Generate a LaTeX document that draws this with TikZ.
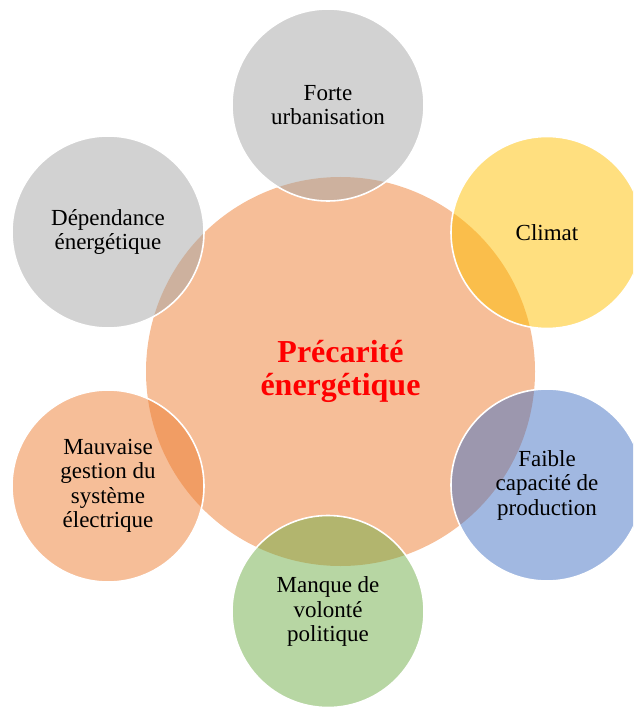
\documentclass[tikz,border=0pt]{standalone}
\usepackage{fontspec}
\setmainfont{Liberation Serif}
\definecolor{OfficeGray}  {RGB}{165, 165, 165}
\definecolor{OfficeGold}  {RGB}{255, 192,   0}
\definecolor{OfficeBlue}  {RGB}{ 68, 114, 196}
\definecolor{OfficeGreen} {RGB}{112, 173,  71}
\definecolor{OfficeOrange}{RGB}{237, 125,  49}

\begin{document}
\begin{tikzpicture}[
  x=1pt, y=-1pt,
  hub/.style={
    circle, inner sep=0pt, minimum size=389pt,
    fill=OfficeOrange, fill opacity=0.5, text opacity=1,
    align=center, text=red,
    font=\fontsize{32}{33}\selectfont\bfseries
  },
  factor/.style={
    circle, inner sep=0pt, minimum size=192pt,
    draw=white, line width=1.6pt,
    fill opacity=0.5, text opacity=1,
    align=center, text=black,
    font=\fontsize{23}{24.5}\selectfont
  }
]

\useasboundingbox (0,0) rectangle (633,708);
\clip (0,0) rectangle (633,708);

% centre
\node[hub] (hub) at (340.5,371.5)
  {Précarité\\énergétique};

% causes
\node[factor, fill=OfficeGray]   (urban) at (328,105)
  {Forte\\urbanisation};
\node[factor, fill=OfficeGold]   (clim)  at (547,232.5)
  {Climat};
\node[factor, fill=OfficeBlue]   (prod)  at (547,485)
  {Faible\\capacité de\\production};
\node[factor, fill=OfficeGreen]  (pol)   at (328,611.5)
  {Manque de\\volonté\\politique};
\node[factor, fill=OfficeOrange] (gest)  at (108,486)
  {Mauvaise\\gestion du\\système\\électrique};
\node[factor, fill=OfficeGray]   (dep)   at (108,232)
  {Dépendance\\énergétique};
\end{tikzpicture}
\end{document}
